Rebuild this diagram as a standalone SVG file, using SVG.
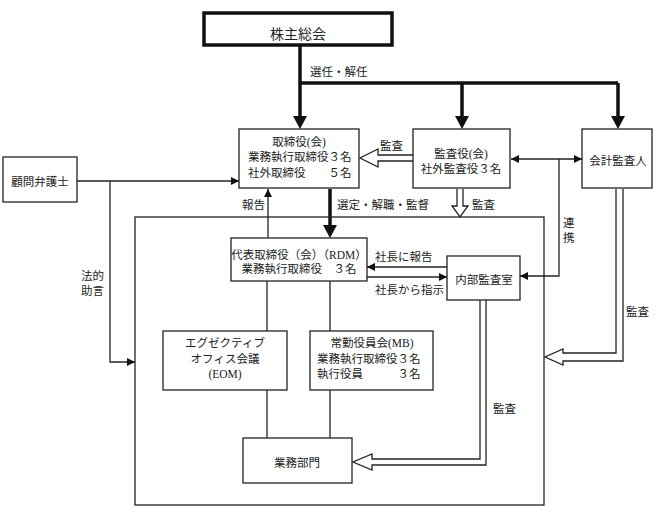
<svg xmlns="http://www.w3.org/2000/svg" width="656" height="515" viewBox="0 0 656 515">
<defs>
<style>
.box{fill:#fff;stroke:#222;stroke-width:1.3}
.t{font-family:"Liberation Serif","Noto Sans CJK JP",serif;font-size:11.5px;fill:#222}
.c{text-anchor:middle}
.ln{fill:none;stroke:#222;stroke-width:1.3}
.thick{fill:none;stroke:#111;stroke-width:3.5}
.hollow{fill:#fff;stroke:#222;stroke-width:1.3}
</style>
<marker id="ah" viewBox="0 0 10 10" refX="10" refY="5" markerWidth="8" markerHeight="8" markerUnits="userSpaceOnUse" orient="auto-start-reverse">
<path d="M0,0 L10,5 L0,10 z" fill="#111"/>
</marker>
</defs>
<rect width="656" height="515" fill="#fff"/>

<g id="connectors">
<!-- 選任・解任 -->
<polyline class="thick" points="300,45 300,118"/>
<polyline class="thick" points="300,83 618,83"/>
<polyline class="thick" points="462,83 462,118"/>
<polyline class="thick" points="618,83 618,118"/>
<polygon points="293,116 307,116 300,129" fill="#111"/>
<polygon points="455,116 469,116 462,129" fill="#111"/>
<polygon points="611,116 625,116 618,129" fill="#111"/>
<!-- 監査 hollow left -->
<polyline class="hollow" points="413,155 378,155 378,149 360,158 378,167 378,161 413,161"/>
<!-- 監査 hollow down -->
<polyline class="hollow" points="457,189 457,206 452,206 460,217 468,206 463,206 463,189"/>
<!-- 選定・解職・監督 -->
<polyline class="thick" points="330,189 330,227"/>
<polygon points="323,225 337,225 330,238" fill="#111"/>
<!-- 報告 -->
<line class="ln" x1="268" y1="238" x2="268" y2="189" marker-end="url(#ah)"/>
<!-- 代表 to EOM / MB / 業務部門 -->
<line class="ln" x1="267" y1="281" x2="267" y2="331"/>
<line class="ln" x1="267" y1="390" x2="267" y2="438"/>
<line class="ln" x1="330" y1="281" x2="330" y2="331"/>
<line class="ln" x1="330" y1="390" x2="330" y2="438"/>
<!-- 社長に報告 / 社長から指示 -->
<line class="ln" x1="447" y1="267" x2="367" y2="267" marker-end="url(#ah)"/>
<line class="ln" x1="367" y1="277" x2="447" y2="277" marker-end="url(#ah)"/>
<!-- 連携 -->
<line class="ln" x1="511" y1="159" x2="582" y2="159" marker-start="url(#ah)" marker-end="url(#ah)"/>
<polyline class="ln" points="559,159 559,276 520,276" marker-end="url(#ah)"/>
<!-- 顧問弁護士 -->
<line class="ln" x1="77" y1="181" x2="239" y2="181" marker-end="url(#ah)"/>
<polyline class="ln" points="110,181 110,362 135,362" marker-end="url(#ah)"/>
<!-- 内部監査 hollow -->
<polyline class="hollow" points="480,300 480,459 372,459 372,454 353,462 372,470 372,465 486,465 486,300"/>
<!-- 会計監査 hollow -->
<polyline class="hollow" points="616,189 616,353 563,353 563,349 545,357 563,365 563,361 623,361 623,189"/>
<!-- labels -->
<text class="t" x="310" y="76">選任・解任</text>
<text class="t" x="380" y="150">監査</text>
<text class="t" x="472" y="209">監査</text>
<text class="t" x="242" y="209">報告</text>
<text class="t" x="337" y="209">選定・解職・監督</text>
<text class="t" x="563" y="227">連</text>
<text class="t" x="563" y="242">携</text>
<text class="t" x="626" y="316">監査</text>
<text class="t" x="81" y="280">法的</text>
<text class="t" x="81" y="295">助言</text>
<text class="t" x="375" y="261">社長に報告</text>
<text class="t" x="375" y="294">社長から指示</text>
<text class="t" x="493" y="413">監査</text>
</g>

<g id="frame">
<rect class="ln" x="135" y="217" width="409" height="288"/>
</g>

<g id="shareholders">
<rect x="204" y="13" width="188" height="32" fill="#fff" stroke="#111" stroke-width="3.5"/>
<text class="t c" x="298" y="39" style="font-size:14px">株主総会</text>
</g>

<g id="board">
<rect class="box" x="239" y="129" width="120" height="59"/>
<text class="t c" x="299" y="146">取締役(会)</text>
<text class="t" x="248" y="161">業務執行取締役３名</text>
<text class="t" x="248" y="177">社外取締役　　５名</text>
</g>

<g id="auditors">
<rect class="box" x="413" y="129" width="97" height="59"/>
<text class="t c" x="461" y="158">監査役(会)</text>
<text class="t c" x="461" y="173">社外監査役３名</text>
</g>

<g id="accounting-auditor">
<rect class="box" x="582" y="129" width="70" height="59"/>
<text class="t c" x="618" y="165">会計監査人</text>
</g>

<g id="lawyer">
<rect class="box" x="3" y="157" width="74" height="45"/>
<text class="t c" x="40" y="186">顧問弁護士</text>
</g>

<g id="rdm">
<rect class="box" x="231" y="238" width="136" height="43"/>
<text class="t c" x="299" y="259">代表取締役（会）（RDM）</text>
<text class="t c" x="299" y="273">業務執行取締役　３名</text>
</g>

<g id="internal-audit">
<rect class="box" x="447" y="256" width="73" height="44"/>
<text class="t c" x="484" y="284">内部監査室</text>
</g>

<g id="eom">
<rect class="box" x="163" y="331" width="124" height="59"/>
<text class="t c" x="225" y="347">エグゼクティブ</text>
<text class="t c" x="225" y="363">オフィス会議</text>
<text class="t c" x="225" y="378">(EOM)</text>
</g>

<g id="mb">
<rect class="box" x="310" y="331" width="123" height="59"/>
<text class="t c" x="372" y="347">常勤役員会(MB)</text>
<text class="t" x="317" y="363">業務執行取締役３名</text>
<text class="t" x="317" y="378">執行役員　　　３名</text>
</g>

<g id="business">
<rect class="box" x="243" y="438" width="109" height="45"/>
<text class="t c" x="297" y="467">業務部門</text>
</g>
</svg>
